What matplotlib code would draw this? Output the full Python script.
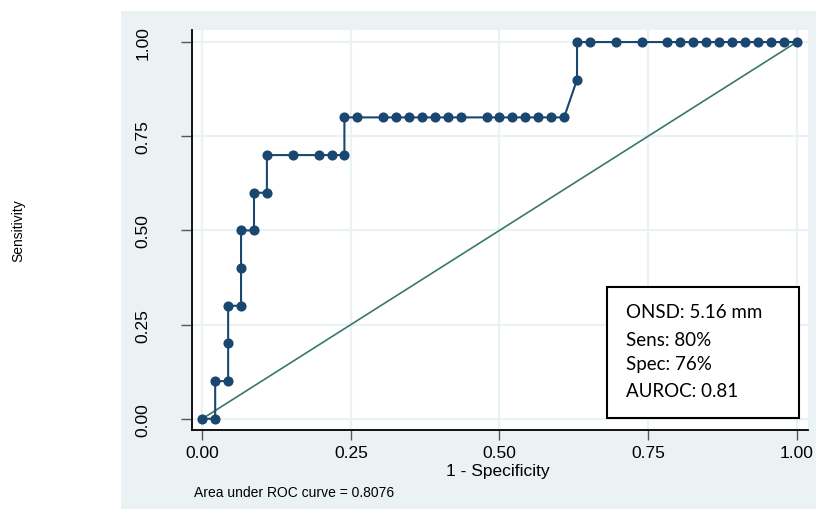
import matplotlib
matplotlib.use("Agg")
import matplotlib.pyplot as plt
from matplotlib.patches import Rectangle

# ROC points (1 - specificity, sensitivity)
fpr = [0.0, 0.0217, 0.0217, 0.0435, 0.0435, 0.0435, 0.0652, 0.0652, 0.0652,
       0.0870, 0.0870, 0.1087, 0.1087, 0.1522, 0.1957, 0.2174, 0.2391, 0.2391,
       0.2609, 0.3043, 0.3261, 0.3478, 0.3696, 0.3913, 0.4130, 0.4348, 0.4783,
       0.5000, 0.5217, 0.5435, 0.5652, 0.5870, 0.6087, 0.6304, 0.6304, 0.6522,
       0.6957, 0.7391, 0.7826, 0.8043, 0.8261, 0.8478, 0.8696, 0.8913, 0.9130,
       0.9348, 0.9565, 0.9783, 1.0]
sens = [0.0, 0.0, 0.1, 0.1, 0.2, 0.3, 0.3, 0.4, 0.5,
        0.5, 0.6, 0.6, 0.7, 0.7, 0.7, 0.7, 0.7, 0.8,
        0.8, 0.8, 0.8, 0.8, 0.8, 0.8, 0.8, 0.8, 0.8,
        0.8, 0.8, 0.8, 0.8, 0.8, 0.8, 0.9, 1.0, 1.0,
        1.0, 1.0, 1.0, 1.0, 1.0, 1.0, 1.0, 1.0, 1.0,
        1.0, 1.0, 1.0, 1.0]
ref_x = [0.0, 1.0]
ref_y = [0.0, 1.0]
ticks = [0.0, 0.25, 0.5, 0.75, 1.0]
tick_labels = ["0.00", "0.25", "0.50", "0.75", "1.00"]
box_lines = ["ONSD: 5.16 mm", "Sens: 80%", "Spec: 76%", "AUROC: 0.81"]
auc_text = "Area under ROC curve = 0.8076"

NAVY = "#1a476f"
GREEN = "#37796a"
BG = "#eaf2f3"

plt.rcParams['font.family'] = ['Liberation Sans', 'DejaVu Sans']

fig = plt.figure(figsize=(8.16, 5.1), dpi=100)
fig.patch.set_facecolor("white")

bg_ax = fig.add_axes([121/816, 0, 1 - 121/816, (510-12)/510], zorder=-5)
bg_ax.set_facecolor(BG)
bg_ax.set_xticks([])
bg_ax.set_yticks([])
for s in bg_ax.spines.values():
    s.set_visible(False)

ax = fig.add_axes([192/816, (510-430.7)/510, (808-192)/816, (430.7-31)/510], zorder=1)
ax.set_facecolor("white")
ax.set_xlim(-0.0173, 1.019)
ax.set_ylim(-0.029, 1.032)

ax.grid(True, color=BG, linewidth=1.6, zorder=0)
ax.set_axisbelow(True)

ax.plot(ref_x, ref_y, color=GREEN, linewidth=1.2, zorder=2)
ax.plot(fpr, sens, color=NAVY, linewidth=1.5, marker="o", markersize=7.3,
        markeredgewidth=0, zorder=3)

ax.set_xticks(ticks)
ax.set_xticklabels(tick_labels)
ax.set_yticks(ticks)
ax.set_yticklabels(tick_labels, rotation=90, va="center")
ax.tick_params(axis="x", length=7, width=1, color="#555555", pad=4, labelsize=12.5)
ax.tick_params(axis="y", length=8, width=1, color="#555555", pad=22, labelsize=12.5)

for s in ["top", "right"]:
    ax.spines[s].set_visible(False)
for s in ["left", "bottom"]:
    ax.spines[s].set_color("black")
    ax.spines[s].set_linewidth(1.3)

fig.text(498/816, (510-471.7)/510, "1 - Specificity", ha="center", va="center",
         fontsize=12.5)
fig.text(18/816, (510-231)/510, "Sensitivity", ha="center", va="center",
         rotation=90, fontsize=10)
fig.text(194/816, (510-493)/510, auc_text, ha="left", va="center", fontsize=10)

# annotation box
ax.add_patch(Rectangle((0.673, 0.0285), 0.985 - 0.673, 0.356 - 0.0285,
                       transform=ax.transAxes, facecolor="white",
                       edgecolor="black", linewidth=1.5, zorder=4))
line_y = [0.2945, 0.2267, 0.1644, 0.0993]
for txt, yy in zip(box_lines, line_y):
    ax.text(0.705, yy, txt, transform=ax.transAxes, ha="left", va="center",
            fontsize=13.5, family=["Lato", "DejaVu Sans"], zorder=5)

fig.savefig("out.png", dpi=100)
